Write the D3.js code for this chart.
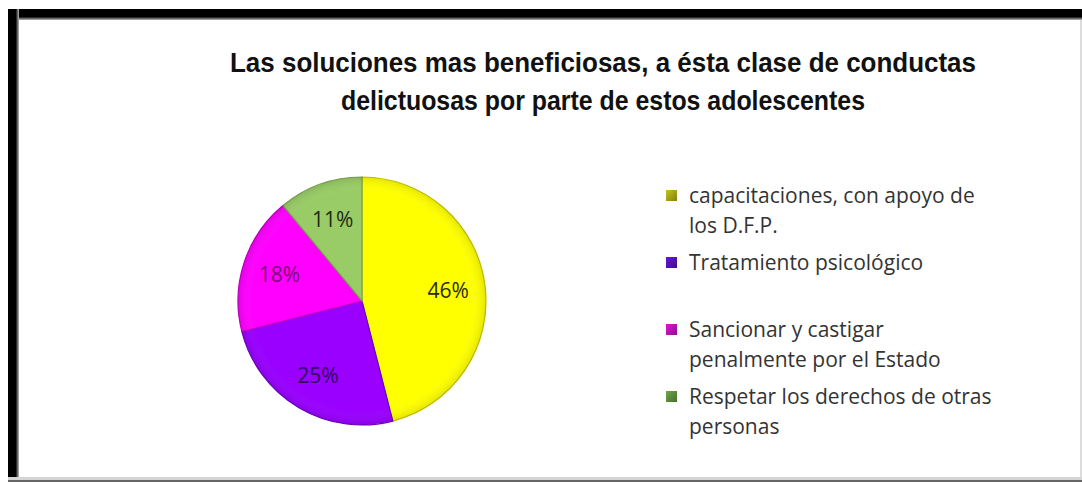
<!DOCTYPE html>
<html>
<head>
<meta charset="utf-8">
<script src="https://cdn.jsdelivr.net/npm/d3@7"></script>
<style>
  body { margin: 0; background: #fff; }
  svg { display: block; }
</style>
</head>
<body>
<div id="canvas"></div>
<script>
// chart data
const categories = [
  "capacitaciones, con apoyo de los D.F.P.",
  "Tratamiento psicológico",
  "Sancionar y castigar penalmente por el Estado",
  "Respetar los derechos de otras personas"
];
const values = [46, 25, 18, 11];
const legendLines = [
  ["capacitaciones, con apoyo de", "los D.F.P."],
  ["Tratamiento  psicológico"],
  ["Sancionar y castigar", "penalmente por el Estado"],
  ["Respetar los derechos de otras", "personas"]
];
const titleLines = [
  "Las soluciones mas beneficiosas, a ésta clase de conductas",
  "delictuosas por parte de estos adolescentes"
];

const sliceColors = ["#ffff00", "#9900ff", "#ff00ff", "#99cc66"];
const edgeColors = ["#c4c400", "#7000c0", "#c000c0", "#77a050"];
const swatchColors = ["#8f8f12", "#4a0f9c", "#a0109c", "#4f7a35"];
const labelColors = ["#2a2a10", "#33005e", "#7a0c7a", "#1f2a14"];

let width = 1082, height = 482;

let svg = d3.select("#canvas")
  .append("svg")
  .attr("width", width)
  .attr("height", height);

svg.append("rect").attr("x", 0).attr("y", 0).attr("width", width).attr("height", height).attr("fill", "#fff");
let defs = svg.append("defs");

// frame: black band on top/left, thin grey on right/bottom
let gTop = defs.append("linearGradient").attr("id", "fadeTop").attr("x1", 0).attr("y1", 0).attr("x2", 0).attr("y2", 1);
gTop.append("stop").attr("offset", "0%").attr("stop-color", "#000");
gTop.append("stop").attr("offset", "70%").attr("stop-color", "#000");
gTop.append("stop").attr("offset", "100%").attr("stop-color", "#bbb");
let gLeft = defs.append("linearGradient").attr("id", "fadeLeft").attr("x1", 0).attr("y1", 0).attr("x2", 1).attr("y2", 0);
gLeft.append("stop").attr("offset", "0%").attr("stop-color", "#000");
gLeft.append("stop").attr("offset", "70%").attr("stop-color", "#000");
gLeft.append("stop").attr("offset", "100%").attr("stop-color", "#bbb");

svg.append("rect").attr("x", 8).attr("y", 9).attr("width", width - 8).attr("height", 11).attr("fill", "url(#fadeTop)");
svg.append("rect").attr("x", 8).attr("y", 9).attr("width", 11).attr("height", height - 9).attr("fill", "url(#fadeLeft)");
svg.append("rect").attr("x", 1080).attr("y", 20).attr("width", 2).attr("height", height - 20).attr("fill", "#dcdcdc");
svg.append("rect").attr("x", 8).attr("y", 477).attr("width", width - 8).attr("height", 3).attr("fill", "#d4d4d4");
svg.append("rect").attr("x", 8).attr("y", 480).attr("width", width - 8).attr("height", 2).attr("fill", "#666");

// title
svg.append("g").selectAll("text")
  .data(titleLines)
  .enter()
  .append("text")
  .attr("x", 603)
  .attr("y", (d, i) => 72 + i * 38)
  .attr("text-anchor", "middle")
  .attr("font-family", "'Liberation Sans', Arial, sans-serif")
  .attr("font-weight", "bold")
  .attr("font-size", 28)
  .attr("fill", "#111")
  .attr("textLength", (d, i) => [746, 524][i])
  .attr("lengthAdjust", "spacingAndGlyphs")
  .text(d => d);

// pie
let cx = 362, cy = 301, radius = 124;
let pie = d3.pie().sort(null).value(d => d);
let arc = d3.arc().innerRadius(0).outerRadius(radius);
let labelArc = d3.arc().innerRadius(radius * 0.7).outerRadius(radius * 0.7);

let shade = defs.append("radialGradient").attr("id", "shade").attr("cx", "50%").attr("cy", "50%").attr("r", "50%");
shade.append("stop").attr("offset", "0%").attr("stop-color", "#fff").attr("stop-opacity", 0);
shade.append("stop").attr("offset", "88%").attr("stop-color", "#fff").attr("stop-opacity", 0);
shade.append("stop").attr("offset", "100%").attr("stop-color", "#000").attr("stop-opacity", 0.1);

let pieG = svg.append("g").attr("transform", "translate(" + cx + "," + cy + ")");
let arcs = pie(values);

pieG.selectAll(".slice")
  .data(arcs)
  .enter()
  .append("path")
  .attr("class", "slice")
  .attr("d", arc)
  .attr("fill", (d, i) => sliceColors[i])
  .attr("stroke", (d, i) => edgeColors[i])
  .attr("stroke-width", 1.2);

pieG.append("circle").attr("r", radius).attr("fill", "url(#shade)");

pieG.selectAll(".pct")
  .data(arcs)
  .enter()
  .append("text")
  .attr("class", "pct")
  .attr("transform", d => "translate(" + labelArc.centroid(d) + ")")
  .attr("text-anchor", "middle")
  .attr("dy", "0.36em")
  .attr("font-family", "'Open Sans', sans-serif")
  .attr("font-size", 21)
  .attr("fill", (d, i) => labelColors[i])
  .text(d => d.data + "%");

// legend
let legendY = d3.scalePoint().domain(categories).range([196, 397]);
let swatchGrad = swatchColors.map((c, i) => {
  let g = defs.append("linearGradient").attr("id", "sw" + i).attr("x1", 0).attr("y1", 0).attr("x2", 1).attr("y2", 1);
  g.append("stop").attr("offset", "0%").attr("stop-color", d3.color(c).brighter(0.9));
  g.append("stop").attr("offset", "100%").attr("stop-color", d3.color(c).darker(0.3));
  return "url(#sw" + i + ")";
});

let legend = svg.selectAll(".legend")
  .data(categories)
  .enter()
  .append("g")
  .attr("class", "legend")
  .attr("transform", d => "translate(666," + legendY(d) + ")");

legend.append("rect")
  .attr("x", 0)
  .attr("y", -6)
  .attr("width", 11)
  .attr("height", 11)
  .attr("fill", (d, i) => swatchGrad[i]);

legend.each(function (d, i) {
  d3.select(this).selectAll("text")
    .data(legendLines[i])
    .enter()
    .append("text")
    .attr("x", 23)
    .attr("y", (t, j) => j * 30)
    .attr("dy", "0.35em")
    .attr("font-family", "'Open Sans', sans-serif")
    .attr("font-size", 21)
    .attr("fill", "#333")
    .text(t => t);
});
</script>
</body>
</html>
